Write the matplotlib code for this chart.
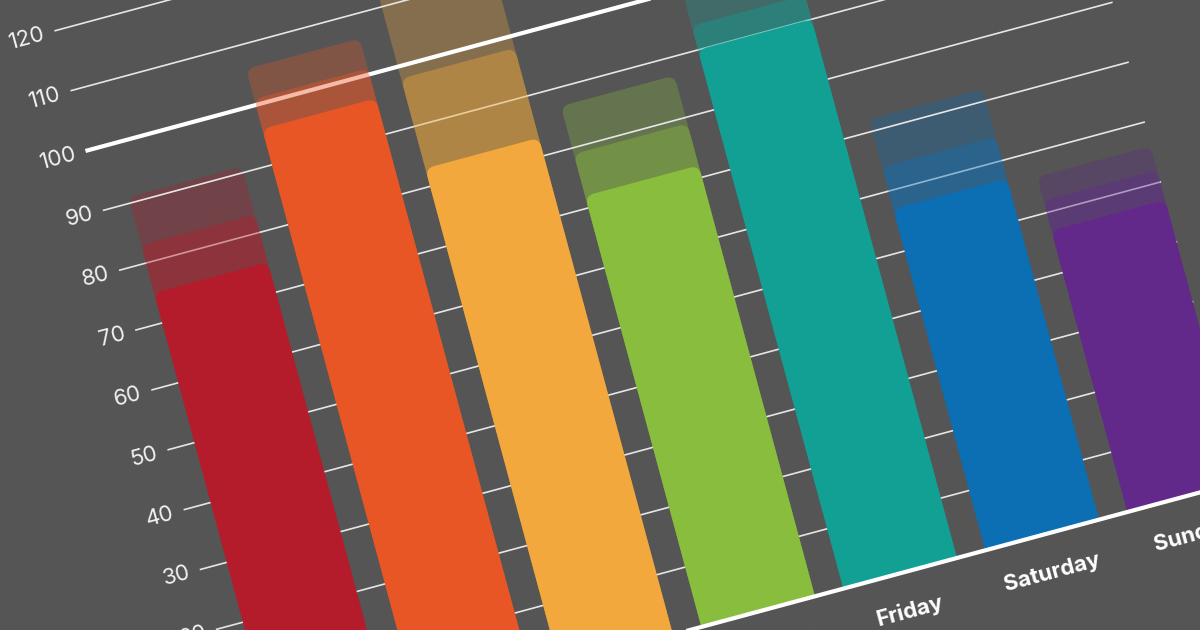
import numpy as np
import matplotlib.pyplot as plt
from matplotlib.patches import FancyBboxPatch, Polygon
from matplotlib.transforms import Affine2D

days = ["Monday", "Tuesday", "Wednesday", "Thursday", "Friday", "Saturday", "Sunday"]
solid = [75, 96, 83, 72, 90, 57, 47]
middle = [83, 101, 98, 79, 94, 64, 52]
upper = [91, 106, 114, 87, 99, 72, 56]
colors = ["#b51c2b", "#e85626", "#f2a83c", "#88bd3e", "#12a095", "#0c6fb3", "#62298a"]
ticks = np.arange(10, 140, 10)

BG = "#555555"
PITCH = 147.1   # px per category
UNIT = 6.2      # px per value unit
ANGLE = 15.1
X0, X1 = -0.585, 6.40

plt.rcParams['font.family'] = ['Inter', 'DejaVu Sans']

fig = plt.figure(figsize=(12, 6.3), dpi=100, facecolor=BG)
ax = fig.add_axes([0, 0, 1, 1])
ax.set_xlim(0, 1200)
ax.set_ylim(0, 630)
ax.axis('off')

# tilted chart frame: x in categories, y in values
chart = (Affine2D().translate(-X0, 0).scale(PITCH, UNIT)
         .rotate_deg(ANGLE).translate(249, -119) + ax.transData)

# keep bars above the baseline (polygon, so the clip follows the tilt)
clip = Polygon([(X0 - 1, 0), (X1 + 1, 0), (X1 + 1, 300), (X0 - 1, 300)],
               closed=True, transform=chart)


def draw_bars(vals, alpha, z):
    for i, (v, c) in enumerate(zip(vals, colors)):
        p = FancyBboxPatch((i - 0.4, -4), 0.8, v + 4,
                           boxstyle="round,pad=0,rounding_size=0.062",
                           mutation_aspect=PITCH / UNIT, transform=chart,
                           fc=c, ec='none', alpha=alpha, zorder=z)
        ax.add_patch(p)
        p.set_clip_path(clip)


draw_bars(upper, 0.3, 1)

for t in ticks:
    if t == 100:
        ax.plot([X0, X1], [t, t], transform=chart, color='white', lw=3, zorder=2)
    else:
        ax.plot([X0, X1], [t, t], transform=chart, color='#e6e6e6', lw=1.2, zorder=2)
    ax.text(X0 - 11 / PITCH, t, str(t), transform=chart, rotation=ANGLE,
            rotation_mode='anchor', ha='right', va='center',
            fontsize=16, color='#f2f2f2')

draw_bars(middle, 0.4, 3)
draw_bars(solid, 1.0, 4)

ax.plot([X0, X1], [0, 0], transform=chart, color='white', lw=3,
        solid_capstyle='butt', zorder=5)

for i, d in enumerate(days):
    ax.text(i, -6.3, d, transform=chart, rotation=ANGLE, rotation_mode='anchor',
            ha='center', va='center', fontsize=16, fontweight='bold', color='white')

fig.savefig('out.png', dpi=100, facecolor=BG)
